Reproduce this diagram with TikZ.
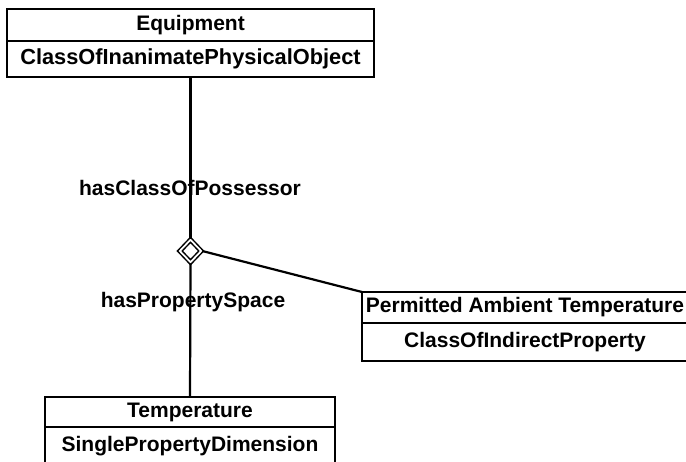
\documentclass[tikz,border=0pt]{standalone}
\usepackage{fontspec}
\setmainfont{Liberation Sans}
\usetikzlibrary{positioning, shapes.geometric}

\tikzset{
  classbox/.style={draw, line width=2.2pt, rectangle, inner sep=0pt, outer sep=0pt,
    font=\bfseries\fontsize{21}{25}\selectfont},
  rolelabel/.style={inner sep=0pt, font=\bfseries\fontsize{21}{25}\selectfont},
  aggregation/.style={draw, diamond, double, double distance=1.8pt, line width=1.5pt,
    inner sep=0pt, minimum width=22pt, minimum height=23pt}
}

\begin{document}
\begin{tikzpicture}[x=1pt, y=-1pt]

\useasboundingbox ( 0, 0 ) rectangle ( 686, 461 );

% Possessor class
\node (equiptitle) at ( 190.5, 25 ) [classbox, minimum width=367pt, minimum height=32pt] {Equipment};
\node (equipclass) [classbox, below=0pt of equiptitle, minimum width=367pt, minimum height=36pt,
  font=\bfseries\fontsize{21.8}{25}\selectfont] {ClassOfInanimatePhysicalObject};

% Indirect property
\node (pattitle) at ( 525, 307.5 ) [classbox, minimum width=326pt, minimum height=31pt] {Permitted Ambient Temperature};
\node (patclass) [classbox, below=0pt of pattitle, minimum width=326pt, minimum height=38pt] {ClassOfIndirectProperty};

% Property space
\node (temptitle) at ( 190, 412 ) [classbox, minimum width=290pt, minimum height=30pt] {Temperature};
\node (tempclass) [classbox, below=0pt of temptitle, minimum width=290pt, minimum height=38pt] {SinglePropertyDimension};

% Aggregation
\node (agg) at ( 190.5, 251 ) [aggregation] {};

\draw [line width=2.2pt] (equipclass.south) -- (agg.north);
\draw [line width=2.2pt] (agg.south) -- (temptitle.north);
\draw [line width=2.2pt] (agg.east) -- (pattitle.north west);

% Roles
\node (possessor) at ( 190, 188 ) [rolelabel] {hasClassOfPossessor};
\node (space) at ( 193, 302 ) [rolelabel] {hasPropertySpace};

\end{tikzpicture}
\end{document}
